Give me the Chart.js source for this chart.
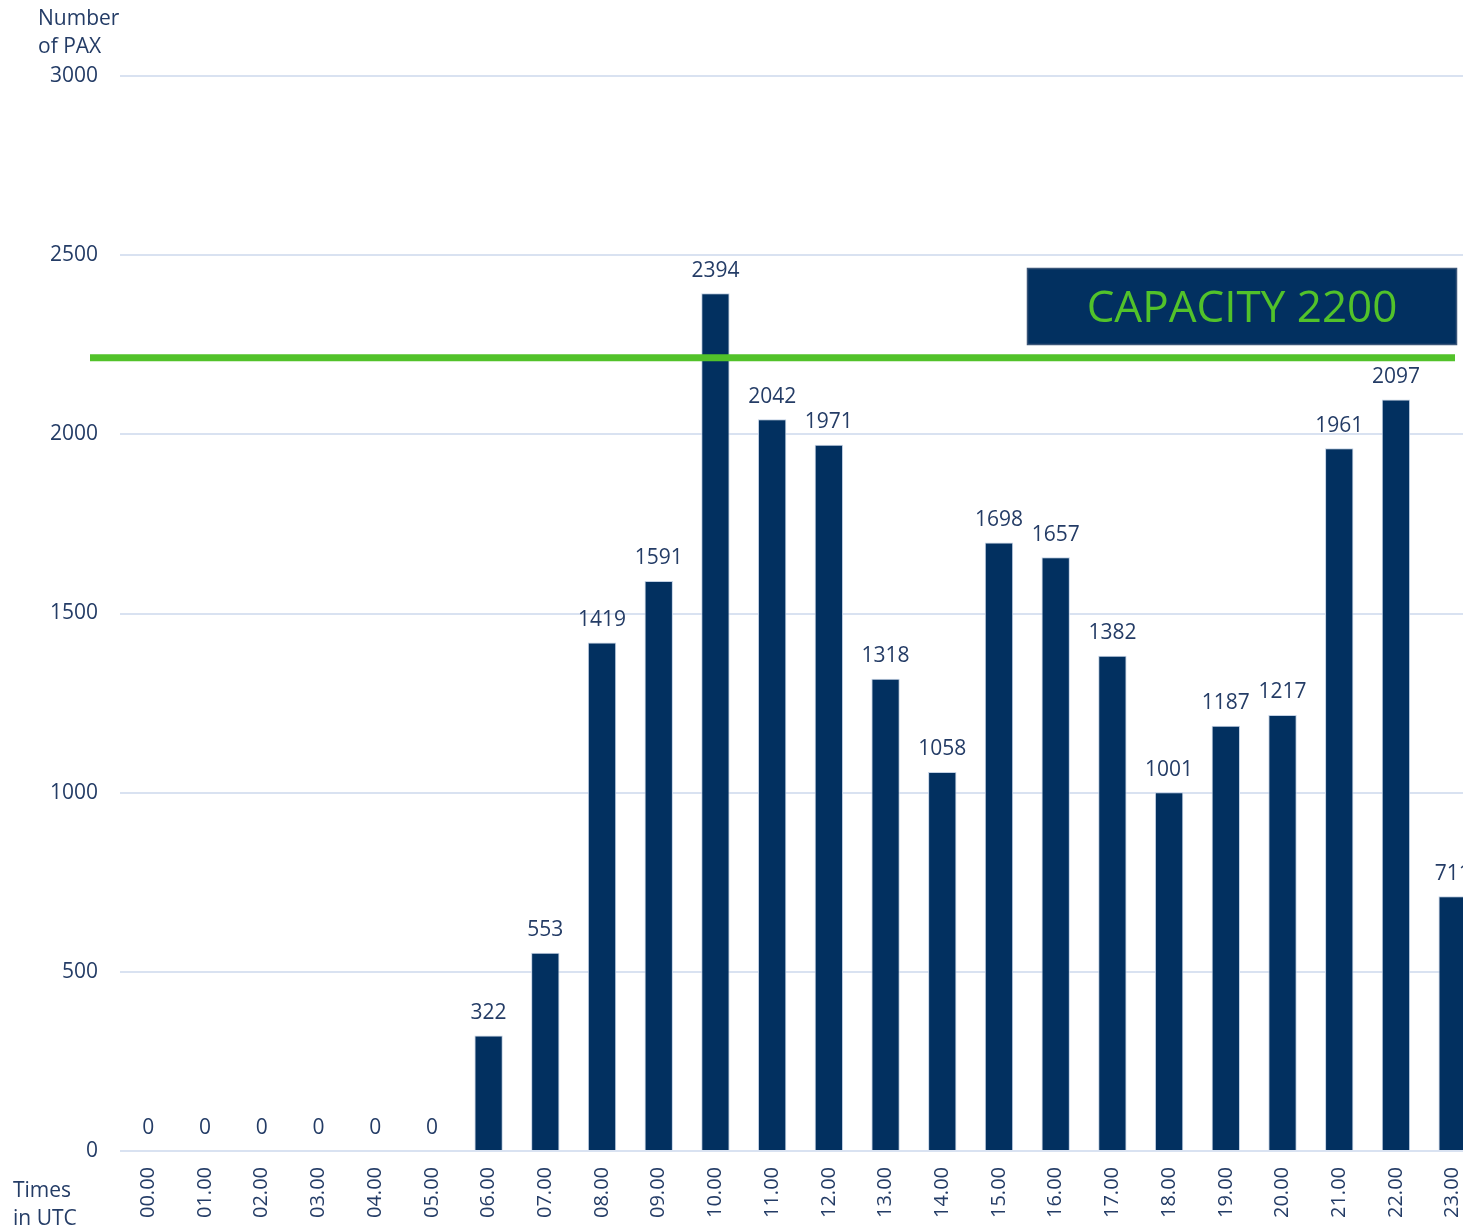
<!DOCTYPE html>
<html>
<head>
<meta charset="utf-8">
<script src="https://cdn.jsdelivr.net/npm/chart.js@4.4.1/dist/chart.umd.min.js"></script>
<style>
  html, body { margin: 0; padding: 0; background: #fff; overflow: hidden; }
  #wrap { width: 1481px; height: 1231px; }
</style>
</head>
<body>
<div id="wrap"><canvas id="paxChart" width="1481" height="1231"></canvas></div>
<script>
// hours of the day (UTC)
const hours = ["00.00", "01.00", "02.00", "03.00", "04.00", "05.00", "06.00", "07.00",
  "08.00", "09.00", "10.00", "11.00", "12.00", "13.00", "14.00", "15.00",
  "16.00", "17.00", "18.00", "19.00", "20.00", "21.00", "22.00", "23.00"];

// passengers per hour
const pax = [0, 0, 0, 0, 0, 0, 322, 553, 1419, 1591, 2394, 2042,
  1971, 1318, 1058, 1698, 1657, 1382, 1001, 1187, 1217, 1961, 2097, 711];

const capacity = 2200;
const capacityText = "CAPACITY 2200";

const navy = "#023060";
const textColor = "#243c66";
const green = "#52c22a";
const fontFamily = "'Open Sans', sans-serif";

// labels on top of the bars, capacity line and its box
const overlayPlugin = {
  id: "overlay",
  afterDatasetsDraw(chart) {
    const ctx = chart.ctx;
    const yScale = chart.scales.y;
    const meta = chart.getDatasetMeta(0);

    ctx.save();
    ctx.font = "21px " + fontFamily;
    ctx.fillStyle = textColor;
    ctx.textAlign = "center";
    ctx.textBaseline = "bottom";
    meta.data.forEach((bar, i) => {
      ctx.fillText(String(pax[i]), bar.x, bar.y - 12);
    });

    // capacity line
    const yCap = yScale.getPixelForValue(capacity) - 5;
    ctx.strokeStyle = green;
    ctx.lineWidth = 7;
    ctx.beginPath();
    ctx.moveTo(90, yCap);
    ctx.lineTo(1455, yCap);
    ctx.stroke();

    // capacity box
    ctx.fillStyle = navy;
    ctx.fillRect(1027, 268, 430, 77);
    ctx.strokeStyle = "#3a5578";
    ctx.lineWidth = 1.5;
    ctx.strokeRect(1027.5, 268.5, 429, 76);
    ctx.fillStyle = green;
    ctx.font = "44px " + fontFamily;
    ctx.textAlign = "center";
    ctx.textBaseline = "middle";
    ctx.fillText(capacityText, 1242, 309);

    // axis titles
    ctx.fillStyle = textColor;
    ctx.font = "21px " + fontFamily;
    ctx.textAlign = "left";
    ctx.textBaseline = "middle";
    ctx.fillText("Number", 38, 19);
    ctx.fillText("of PAX", 38, 47);
    ctx.fillText("Times", 13, 1191);
    ctx.fillText("in UTC", 13, 1219);
    ctx.restore();
  }
};

new Chart(document.getElementById("paxChart").getContext("2d"), {
  type: "bar",
  data: {
    labels: hours,
    datasets: [{
      label: "PAX",
      data: pax,
      backgroundColor: navy,
      borderColor: "#c3d1e4",
      borderWidth: 1,
      barPercentage: 0.5,
      categoryPercentage: 1.0
    }]
  },
  options: {
    responsive: false,
    animation: false,
    layout: { padding: { top: 76, left: 0, right: 0, bottom: 0 } },
    plugins: {
      legend: { display: false },
      tooltip: { enabled: false }
    },
    scales: {
      x: {
        grid: { display: false, drawTicks: false },
        border: { display: false },
        ticks: {
          color: textColor,
          font: { family: fontFamily, size: 20 },
          maxRotation: 90,
          minRotation: 90,
          padding: 16,
          autoSkip: false
        },
        afterFit(scale) {
          scale.height = 80;
          scale.paddingLeft = 0;
          scale.paddingRight = 0;
        }
      },
      y: {
        min: 0,
        max: 3000,
        grid: { color: "#d9e2f1", lineWidth: 2, drawTicks: false },
        border: { display: false },
        ticks: {
          stepSize: 500,
          color: textColor,
          font: { family: fontFamily, size: 21 },
          padding: 22,
          callback: (v) => String(v)
        },
        afterFit(scale) { scale.width = 120; }
      }
    }
  },
  plugins: [overlayPlugin]
});
</script>
</body>
</html>
